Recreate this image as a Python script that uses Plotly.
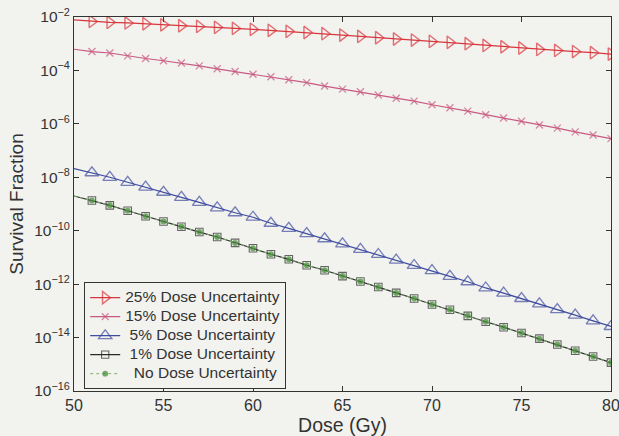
import plotly.graph_objects as go

dose = list(range(50, 81))

sf_25 = [7.8e-3, 6.8e-3, 6.3e-3, 6.0e-3, 5.6e-3, 5.1e-3, 4.7e-3, 4.45e-3, 4.1e-3, 3.74e-3,
         3.43e-3, 3.15e-3, 2.9e-3, 2.63e-3, 2.37e-3, 2.11e-3, 1.87e-3, 1.67e-3, 1.50e-3, 1.37e-3,
         1.22e-3, 1.12e-3, 1.0e-3, 8.6e-4, 7.7e-4, 6.9e-4, 6.1e-4, 5.6e-4, 5.1e-4, 4.6e-4, 4.1e-4]
sf_15 = [6.2e-4, 5.1e-4, 4.5e-4, 3.5e-4, 2.8e-4, 2.3e-4, 1.9e-4, 1.48e-4, 1.15e-4, 9.1e-5,
         7.2e-5, 5.8e-5, 4.5e-5, 3.5e-5, 2.6e-5, 2.0e-5, 1.6e-5, 1.2e-5, 9.1e-6, 7.1e-6,
         5.2e-6, 4.0e-6, 3.0e-6, 2.2e-6, 1.66e-6, 1.26e-6, 9.1e-7, 6.9e-7, 5.0e-7, 3.8e-7, 2.8e-7]
sf_5 = [2.1e-8, 1.48e-8, 1.0e-8, 6.5e-9, 4.3e-9, 2.75e-9, 1.78e-9, 1.15e-9, 7.2e-10, 4.7e-10,
        3.2e-10, 1.9e-10, 1.23e-10, 7.8e-11, 5.0e-11, 3.2e-11, 2.0e-11, 1.29e-11, 7.9e-12, 5.0e-12,
        3.2e-12, 1.95e-12, 1.23e-12, 7.2e-13, 4.6e-13, 2.9e-13, 1.82e-13, 1.12e-13, 6.9e-14, 4.2e-14, 2.6e-14]
sf_1 = [2.0e-9, 1.35e-9, 8.9e-10, 5.6e-10, 3.5e-10, 2.2e-10, 1.41e-10, 8.9e-11, 5.8e-11, 3.5e-11,
        2.2e-11, 1.32e-11, 8.5e-12, 5.1e-12, 3.3e-12, 2.0e-12, 1.26e-12, 7.8e-13, 4.7e-13, 2.9e-13,
        1.74e-13, 1.10e-13, 6.5e-14, 3.9e-14, 2.45e-14, 1.48e-14, 9.1e-15, 5.5e-15, 3.2e-15, 1.95e-15, 1.15e-15]
sf_0 = [2.0e-9, 1.35e-9, 8.9e-10, 5.6e-10, 3.5e-10, 2.2e-10, 1.41e-10, 8.9e-11, 5.8e-11, 3.5e-11,
        2.2e-11, 1.32e-11, 8.5e-12, 5.1e-12, 3.3e-12, 2.0e-12, 1.26e-12, 7.8e-13, 4.7e-13, 2.9e-13,
        1.74e-13, 1.10e-13, 6.5e-14, 3.9e-14, 2.45e-14, 1.48e-14, 9.1e-15, 5.5e-15, 3.2e-15, 1.95e-15, 1.15e-15]

labels = ["25% Dose Uncertainty", "15% Dose Uncertainty", "\u00a05% Dose Uncertainty",
          "\u00a01% Dose Uncertainty", "\u00a0\u00a0No Dose Uncertainty"]

x_ticks = [50, 55, 60, 65, 70, 75, 80]
y_tickvals = [1e-16, 1e-14, 1e-12, 1e-10, 1e-8, 1e-6, 1e-4, 1e-2]
y_ticktext = ["10<sup>\u221216</sup>", "10<sup>\u221214</sup>", "10<sup>\u221212</sup>", "10<sup>\u221210</sup>",
              "10<sup>\u22128</sup>", "10<sup>\u22126</sup>", "10<sup>\u22124</sup>", "10<sup>\u22122</sup>"]

BG = "#f2f2ee"
FONT = "Liberation Sans, Arial, sans-serif"
TXT = "#333333"

def sizes(s):
    return [0] + [s] * (len(dose) - 1)

def lname(t):
    return '<span style="font-size:15.5px">' + t + '</span>'

fig = go.Figure()
fig.add_trace(go.Scatter(x=dose, y=sf_25, name=lname(labels[0]), mode="lines+markers",
                         line=dict(color="#d8363d", width=1.2),
                         marker=dict(symbol="triangle-right-open", size=sizes(11), color="#d8363d",
                                     line=dict(width=1.4))))
fig.add_trace(go.Scatter(x=dose, y=sf_15, name=lname(labels[1]), mode="lines+markers",
                         line=dict(color="#c85a82", width=1.2),
                         marker=dict(symbol="x-thin-open", size=sizes(7), color="#c85a82",
                                     line=dict(width=1.3, color="#c85a82"))))
fig.add_trace(go.Scatter(x=dose, y=sf_5, name=lname(labels[2]), mode="lines+markers",
                         line=dict(color="#3e4c9e", width=1.2),
                         marker=dict(symbol="triangle-up-open", size=sizes(12), color="#3e4c9e",
                                     line=dict(width=1.3))))
fig.add_trace(go.Scatter(x=dose, y=sf_1, name=lname(labels[3]), mode="lines+markers",
                         line=dict(color="#2a2a2a", width=1.2),
                         marker=dict(symbol="square-open", size=sizes(7.5), color="#2a2a2a",
                                     line=dict(width=1.1))))
fig.add_trace(go.Scatter(x=dose, y=sf_0, name=lname(labels[4]), mode="lines+markers",
                         line=dict(color="#7fb36f", width=1, dash="dot"),
                         marker=dict(symbol="circle", size=sizes(6), color="#3d8a2f",
                                     line=dict(width=0))))

axis_common = dict(showline=True, linecolor=TXT, linewidth=1, mirror="ticks", automargin=False,
                   ticks="inside", ticklen=5, tickcolor=TXT, showgrid=False, zeroline=False,
                   ticklabeloverflow="allow")

fig.update_xaxes(range=[50, 80], tickvals=x_ticks, ticktext=[str(v) for v in x_ticks],
                 tickfont=dict(family=FONT, size=16, color=TXT),
                 title=dict(text="Dose (Gy)", standoff=1, font=dict(family=FONT, size=19.5, color=TXT)),
                 **axis_common)
fig.update_yaxes(type="log", range=[-16, -2], tickvals=y_tickvals, ticktext=y_ticktext,
                 tickfont=dict(family=FONT, size=15.5, color=TXT),
                 title=dict(text="Survival Fraction", standoff=5, font=dict(family=FONT, size=19, color=TXT)),
                 **axis_common)

fig.update_layout(
    width=619, height=436,
    margin=dict(l=74, r=8, t=17, b=45),
    paper_bgcolor=BG, plot_bgcolor=BG,
    showlegend=True,
    legend=dict(x=0.019, y=0.291, xanchor="left", yanchor="top",
                bgcolor=BG, bordercolor=TXT, borderwidth=1,
                font=dict(family=FONT, size=12.3, color=TXT),
                tracegroupgap=0, itemwidth=30),
)

fig.write_html("out.html")
